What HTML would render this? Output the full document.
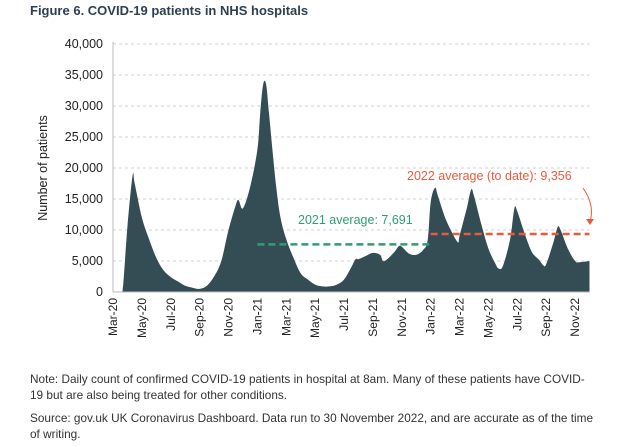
<!DOCTYPE html>
<html><head><meta charset="utf-8"><style>
body{margin:0;background:#fff;font-family:"Liberation Sans",Arial,sans-serif;}
#wrap{position:relative;width:617px;height:447px;overflow:hidden;}
.note{position:absolute;left:30px;font-size:11.8px;color:#333;line-height:16px;width:565px;}
</style></head><body>
<div id="wrap">
<div style="position:absolute;left:30px;top:3px;font-size:13px;font-weight:bold;color:#2f3f4f;">Figure 6. COVID-19 patients in NHS hospitals</div>
<svg id="chart" width="617" height="360" style="position:absolute;left:0;top:0"></svg>
<div class="note" style="top:371px;">Note: Daily count of confirmed COVID-19 patients in hospital at 8am. Many of these patients have COVID-19 but are also being treated for other conditions.</div>
<div class="note" style="top:410px;">Source: gov.uk UK Coronavirus Dashboard. Data run to 30 November 2022, and are accurate as of the time of writing.</div>
</div>
<script>
const months=[0,0.6,0.7,1,1.36,1.5,2,2.5,3,3.5,4,4.5,5,5.5,6,6.5,7,7.5,8,8.5,8.7,9,9.5,10,10.2,10.4,10.6,10.8,11,11.3,11.6,12,12.5,13,13.5,14,14.5,15,15.5,16,16.5,16.8,17,17.5,18,18.5,18.7,19,19.5,19.8,20,20.5,21,21.5,21.8,22,22.3,22.5,23,23.5,23.9,24,24.5,24.8,25,25.5,26,26.5,26.7,27,27.5,27.8,28,28.5,29,29.5,29.8,30,30.5,30.8,31,31.5,32,32.3,33];
const patients=[0,0,1000,10500,18800,17500,12000,8500,5500,3500,2400,1700,1000,700,500,1000,2500,5000,10000,14000,14800,13500,17000,23000,29000,33500,33500,29000,24000,17000,12000,8500,5500,3000,2000,1200,900,900,1200,2000,4000,5300,5300,5800,6300,6000,5000,5300,6500,7400,7300,6200,6000,6800,8500,14500,16800,15500,12000,9500,8000,9000,13500,16500,15500,11000,7000,4500,3800,4200,8500,13500,13000,9500,6500,5200,4300,4500,8000,10500,10000,7000,5000,4800,5000];
const yTicks=[0,5000,10000,15000,20000,25000,30000,35000,40000];
const xTickLabels=["Mar-20","May-20","Jul-20","Sep-20","Nov-20","Jan-21","Mar-21","May-21","Jul-21","Sep-21","Nov-21","Jan-22","Mar-22","May-22","Jul-22","Sep-22","Nov-22"];
const avg2021=7691, avg2022=9356;
const avgSpans=[[10,22],[22,33]];
const svg=document.getElementById('chart');
const NS='http://www.w3.org/2000/svg';
const x0=113,x1=589.5,y0=292,yTop=44;
const xs=m=>x0+(m/33)*(x1-x0);
const ys=v=>y0-(v/40000)*(y0-yTop);
function mk(t,a){const e=document.createElementNS(NS,t);for(const k in a)e.setAttribute(k,a[k]);svg.appendChild(e);return e;}
yTicks.forEach(v=>{
  if(v>0){const g=mk('line',{x1:x0,x2:x1,y1:ys(v),y2:ys(v),stroke:'#d0d0d0','stroke-dasharray':'3,3'});
  
  }
  const t=mk('text',{x:103,y:ys(v)+4,'text-anchor':'end','font-size':'12.5',fill:'#222'});
  t.textContent=v.toLocaleString('en-US');
  
  
});
const P=months.map((m,i)=>[xs(m),ys(patients[i])]);
let d='M'+P[0][0]+','+y0+' L'+P[0][0]+','+P[0][1];
for(let i=0;i<P.length-1;i++){
  const p0=P[Math.max(0,i-1)],p1=P[i],p2=P[i+1],p3=P[Math.min(P.length-1,i+2)];
  const c1x=p1[0]+(p2[0]-p0[0])/6,c1y=Math.min(y0,p1[1]+(p2[1]-p0[1])/6);
  const c2x=p2[0]-(p3[0]-p1[0])/6,c2y=Math.min(y0,p2[1]-(p3[1]-p1[1])/6);
  d+=` C${c1x.toFixed(1)},${c1y.toFixed(1)} ${c2x.toFixed(1)},${c2y.toFixed(1)} ${p2[0].toFixed(1)},${p2[1].toFixed(1)}`;
}
d+=' L'+P[P.length-1][0]+','+y0+' Z';
const area=mk('path',{d:d,fill:'#344d55'});


const ax=mk('line',{x1:x0,x2:x0,y1:yTop-2,y2:y0,stroke:'#bbb'});


const bx=mk('line',{x1:x0,x2:x1,y1:y0,y2:y0,stroke:'#bbb'});


xTickLabels.forEach((l,i)=>{
  const x=xs(i*2);
  const t=mk('text',{x:0,y:0,'text-anchor':'end','font-size':'12',fill:'#222',transform:`translate(${x+4},${y0+6}) rotate(-90)`});
  t.textContent=l;
  
  
});
const yt=mk('text',{x:0,y:0,'text-anchor':'middle','font-size':'12.5',fill:'#222',transform:`translate(47,168) rotate(-90)`});
yt.textContent='Number of patients';


const l1=mk('line',{x1:xs(avgSpans[0][0]),x2:xs(avgSpans[0][1]),y1:ys(avg2021),y2:ys(avg2021),stroke:'#2e9e72','stroke-width':'2.5','stroke-dasharray':'7,4'});


const l2=mk('line',{x1:xs(avgSpans[1][0]),x2:xs(avgSpans[1][1]),y1:ys(avg2022),y2:ys(avg2022),stroke:'#ec5a3c','stroke-width':'2.5','stroke-dasharray':'7,4'});


const t1=mk('text',{x:298,y:224,'font-size':'12.5',fill:'#2e9e72'});
t1.textContent='2021 average: '+avg2021.toLocaleString('en-US');


const t2=mk('text',{x:407,y:180,'font-size':'12.5',fill:'#ec5a3c'});
t2.textContent='2022 average (to date): '+avg2022.toLocaleString('en-US');


const ar=mk('path',{d:'M583,188 Q595,205 590,222',fill:'none',stroke:'#ec5a3c','stroke-width':'1'});


const ah=mk('path',{d:'M586,219 L590,225 L594,219 Z',fill:'#ec5a3c'});


</script>
</body></html>
